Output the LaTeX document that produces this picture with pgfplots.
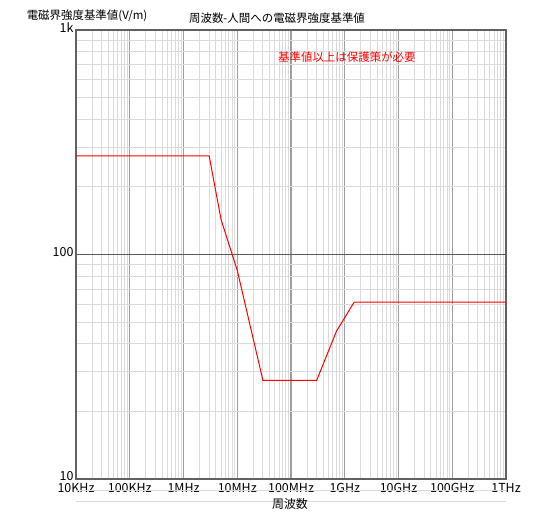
\documentclass[border=0pt]{standalone}
\usepackage{fontspec}
\setmainfont{Noto Sans CJK JP}
\usepackage{pgfplots}
\pgfplotsset{compat=1.18}
\begin{document}
\begin{tikzpicture}[x=1bp,y=1bp]
\begin{axis}[
  at={(0,0)}, anchor=south west,
  scale only axis, width=430bp, height=449bp,
  xmode=log, ymode=log,
  xmin=1e4, xmax=1e12, ymin=10, ymax=1000,
  xtick={1e4,1e5,1e6,1e7,1e8,1e9,1e10,1e11,1e12},
  xticklabels={10KHz,100KHz,1MHz,10MHz,100MHz,1GHz,10GHz,100GHz,1THz},
  ytick={10,1000}, yticklabels={10,1k},
  extra y ticks={100}, extra y tick labels={100},
  extra y tick style={major grid style={color=black!65, line width=1.3bp}},
  minor xtick={2e4,3e4,4e4,5e4,6e4,7e4,8e4,9e4,
    2e5,3e5,4e5,5e5,6e5,7e5,8e5,9e5,
    2e6,3e6,4e6,5e6,6e6,7e6,8e6,9e6,
    2e7,3e7,4e7,5e7,6e7,7e7,8e7,9e7,
    2e8,3e8,4e8,5e8,6e8,7e8,8e8,9e8,
    2e9,3e9,4e9,5e9,6e9,7e9,8e9,9e9,
    2e10,3e10,4e10,5e10,6e10,7e10,8e10,9e10,
    2e11,3e11,4e11,5e11,6e11,7e11,8e11,9e11},
  minor ytick={20,30,40,50,60,70,80,90,200,300,400,500,600,700,800,900},
  grid=both,
  minor grid style={color=black!14, line width=0.9bp},
  major grid style={color=black!38, line width=1.3bp},
  axis line style={color=black!62, line width=1.6bp},
  tick style={draw=none},
  tick label style={font=\fontsize{12.5}{14}\selectfont},
  xticklabel style={yshift=-1bp},
  yticklabel style={yshift=2.5bp, xshift=1bp},
]
\addplot[red, line width=1bp] coordinates {
  (1e4,275) (3e6,275) (5e6,143) (1e7,85) (3e7,27.5)
  (3e8,27.5) (7e8,45.5) (1.5e9,61.4) (1e12,61.4)
};
\node[red, font=\fontsize{11.5}{13}\selectfont] at (rel axis cs:0.63,0.94) {基準値以上は保護策が必要};
\end{axis}
\draw[black!15, line width=0.8bp] (0,-11) -- (430,-11);
\draw[black!15, line width=0.8bp] (0,-22) -- (430,-22);
\node[font=\fontsize{11.5}{13}\selectfont] at (201,461) {周波数-人間への電磁界強度基準値};
\node[font=\fontsize{11.5}{13}\selectfont] at (11,463) {電磁界強度基準値(V/m)};
\node[font=\fontsize{12}{14}\selectfont] at (214,-25) {周波数};
\pgfresetboundingbox
\path[use as bounding box] (-76,-35) rectangle (484,479);
\end{tikzpicture}
\end{document}
